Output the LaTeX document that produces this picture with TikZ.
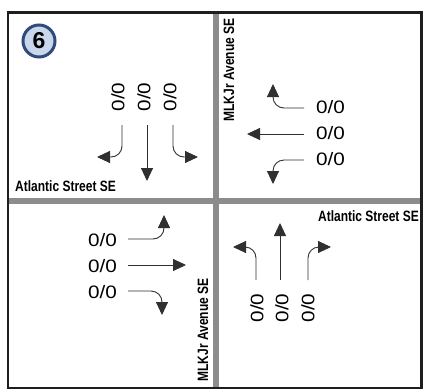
\documentclass[tikz,border=0pt]{standalone}
\usepackage{fontspec}
\setmainfont{Liberation Sans}
\usepackage{graphicx}
\usetikzlibrary{arrows.meta}

\definecolor{roadgray}{HTML}{8C8C8C}
\definecolor{ringblue}{HTML}{2F4B7C}
\definecolor{discblue}{HTML}{C9D7EC}
\definecolor{framedark}{HTML}{1E1E1E}
\definecolor{movegray}{HTML}{303030}

% condensed bold street names and stretched turning volumes
\newcommand{\streetname}[1]{\scalebox{0.8}[1]{\bfseries #1}}
\newcommand{\volume}{\scalebox{1.15}[1]{0/0}}

\begin{document}
\begin{tikzpicture}[x=1pt,y=-1pt,
  street/.style={inner sep=0pt, font=\fontsize{15}{15}\selectfont},
  vol/.style={inner sep=0pt, font=\fontsize{18}{18}\selectfont},
  move/.style={line width=0.9pt, draw=movegray, rounded corners=11pt,
    -{Triangle[length=13pt,width=12pt]}},
]
\useasboundingbox (0,0) rectangle (425,391);
\fill[white] (0,0) rectangle (425,391);

% road centre lines
\coordinate (roadN) at (216,12.5);
\coordinate (roadS) at (216,388);
\coordinate (roadW) at (8,201);
\coordinate (roadE) at (421.5,201);
\draw[roadgray, line width=6.5pt] (roadN) -- (roadS);
\draw[roadgray, line width=6.5pt] (roadW) -- (roadE);

% outer frame
\draw[framedark, line width=2.2pt] (8,12.5) rectangle (421.5,388);

% intersection number
\node[circle, draw=ringblue, line width=3pt, fill=discblue, minimum size=32pt,
  inner sep=0pt, font=\fontsize{23}{23}\selectfont\bfseries] (tag) at (39,41) {6};

% street names
\node[street, anchor=west] (atlW) at (15,186) {\streetname{Atlantic Street SE}};
\node[street, anchor=east] (atlE) at (419,216) {\streetname{Atlantic Street SE}};
\node[street, rotate=90] (mlkN) at (229,70) {\streetname{MLKJr Avenue SE}};
\node[street, rotate=90] (mlkS) at (203,330) {\streetname{MLKJr Avenue SE}};

% southbound approach (top left)
\node[vol, rotate=90] (sbR) at (118,97) {\volume};
\node[vol, rotate=90] (sbT) at (144,97) {\volume};
\node[vol, rotate=90] (sbL) at (170,97) {\volume};
\coordinate (sbRa) at (122,125); \coordinate (sbRb) at (97,157);
\coordinate (sbTa) at (147,125); \coordinate (sbTb) at (147,181);
\coordinate (sbLa) at (173,125); \coordinate (sbLb) at (198,157);
\draw[move] (sbRa) |- (sbRb);
\draw[move] (sbTa) -- (sbTb);
\draw[move] (sbLa) |- (sbLb);

% westbound approach (top right)
\node[vol, anchor=west] (wbR) at (316,107) {\volume};
\node[vol, anchor=west] (wbT) at (316,133) {\volume};
\node[vol, anchor=west] (wbL) at (316,159) {\volume};
\coordinate (wbRa) at (304,108); \coordinate (wbRb) at (273,84);
\coordinate (wbTa) at (304,134); \coordinate (wbTb) at (247,134);
\coordinate (wbLa) at (304,160); \coordinate (wbLb) at (273,184);
\draw[move] (wbRa) -| (wbRb);
\draw[move] (wbTa) -- (wbTb);
\draw[move] (wbLa) -| (wbLb);

% eastbound approach (bottom left)
\node[vol, anchor=east] (ebL) at (117,240) {\volume};
\node[vol, anchor=east] (ebT) at (117,266) {\volume};
\node[vol, anchor=east] (ebR) at (117,292) {\volume};
\coordinate (ebLa) at (128,239); \coordinate (ebLb) at (164,215);
\coordinate (ebTa) at (128,265); \coordinate (ebTb) at (186,265);
\coordinate (ebRa) at (128,291); \coordinate (ebRb) at (162,315);
\draw[move] (ebLa) -| (ebLb);
\draw[move] (ebTa) -- (ebTb);
\draw[move] (ebRa) -| (ebRb);

% northbound approach (bottom right)
\node[vol, rotate=90] (nbL) at (257,308) {\volume};
\node[vol, rotate=90] (nbT) at (282,308) {\volume};
\node[vol, rotate=90] (nbR) at (308,308) {\volume};
\coordinate (nbLa) at (256,280); \coordinate (nbLb) at (233,247);
\coordinate (nbTa) at (280,280); \coordinate (nbTb) at (280,223);
\coordinate (nbRa) at (308,280); \coordinate (nbRb) at (331,247);
\draw[move] (nbLa) |- (nbLb);
\draw[move] (nbTa) -- (nbTb);
\draw[move] (nbRa) |- (nbRb);
\end{tikzpicture}
\end{document}
